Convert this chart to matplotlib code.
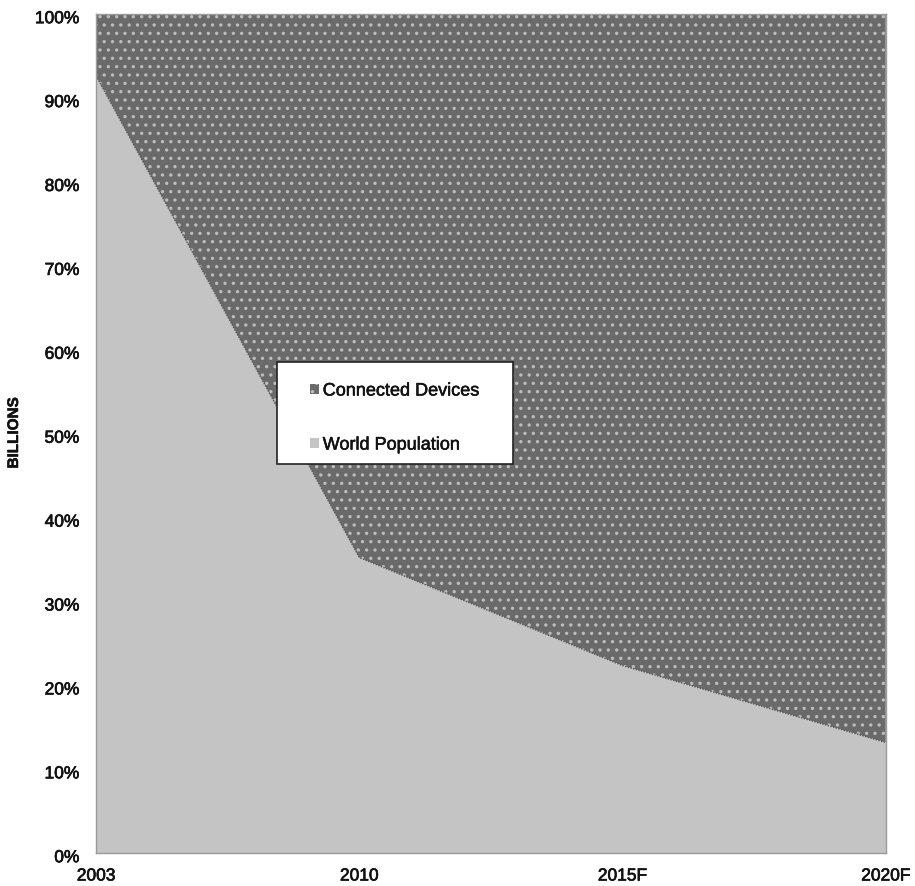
import numpy as np
import matplotlib.pyplot as plt
import matplotlib.patheffects as pe
from matplotlib.patches import Patch, Rectangle
from matplotlib.transforms import ScaledTranslation

plt.rcParams['font.family'] = ['Liberation Sans', 'DejaVu Sans']
plt.rcParams['hatch.linewidth'] = 1.2
plt.rcParams['hatch.color'] = '#bdbdbd'

# billions
years = ['2003', '2010', '2015F', '2020F']
population = [6.3, 6.8, 7.2, 7.6]
devices = [0.5, 12.5, 25, 50]

pop = np.array(population)
dev = np.array(devices)
total = pop + dev
pop_share = pop / total * 100
dev_share = dev / total * 100

dark = '#6a6a6a'
light = '#c4c4c4'

fig = plt.figure(figsize=(9.15, 8.86), dpi=100)
ax = fig.add_axes([0.105, 0.037, 0.863, 0.947])

x = np.arange(len(years))
ax.fill_between(x, 0, pop_share, color=light, linewidth=0)
ax.fill_between(x, pop_share, pop_share + dev_share, facecolor=dark,
                edgecolor='#bdbdbd', hatch='..', linewidth=0)
ax.plot(x, pop_share, color='#555555', lw=1, ls=(0, (1, 1)))

ax.set_xlim(0, len(years) - 1)
ax.set_ylim(0, 100)
ax.set_xticks(x)
ax.set_xticklabels(years)
ax.set_yticks(range(0, 101, 10))
ax.set_yticklabels([f'{v}%' for v in range(0, 101, 10)])
ax.tick_params(length=0, labelsize=12.5, colors='#111111')
ax.tick_params(axis='y', pad=12)
ax.tick_params(axis='x', pad=11)
shift = ScaledTranslation(0, -3 / 100, fig.dpi_scale_trans)
for lbl in ax.get_yticklabels():
    lbl.set_transform(lbl.get_transform() + shift)
for lbl in ax.get_xticklabels() + ax.get_yticklabels():
    lbl.set_path_effects([pe.withStroke(linewidth=0.5, foreground='#111111')])

fig.text(14 / 915, 1 - 433 / 886, 'BILLIONS', rotation=90, ha='center', va='center',
         fontsize=11, fontweight='bold', color='#111111',
         path_effects=[pe.withStroke(linewidth=0.4, foreground='#111111')])

for s in ax.spines.values():
    s.set_color('#9a9a9a')
    s.set_linewidth(1)
    s.set_linestyle((0, (2, 1)))

# legend box
ax.add_patch(Rectangle((0.229, 0.4636), 0.299, 0.1216, transform=ax.transAxes,
                       facecolor='white', edgecolor='#222222', linewidth=1.2,
                       zorder=5))
handles = [Patch(facecolor=dark, edgecolor='#bdbdbd', hatch='..', linewidth=0),
           Patch(facecolor=light, linewidth=0)]
leg = ax.legend(handles, ['Connected Devices', 'World Population'],
                loc='upper left', bbox_to_anchor=(0.271, 0.561),
                fontsize=13, frameon=False,
                handlelength=0.5, handleheight=0.5, handletextpad=0.2,
                labelspacing=2.05, borderpad=0, borderaxespad=0)
leg.set_zorder(6)
for t in leg.get_texts():
    t.set_color('#111111')
    t.set_path_effects([pe.withStroke(linewidth=0.4, foreground='#111111')])

fig.savefig('out.png', dpi=100)
